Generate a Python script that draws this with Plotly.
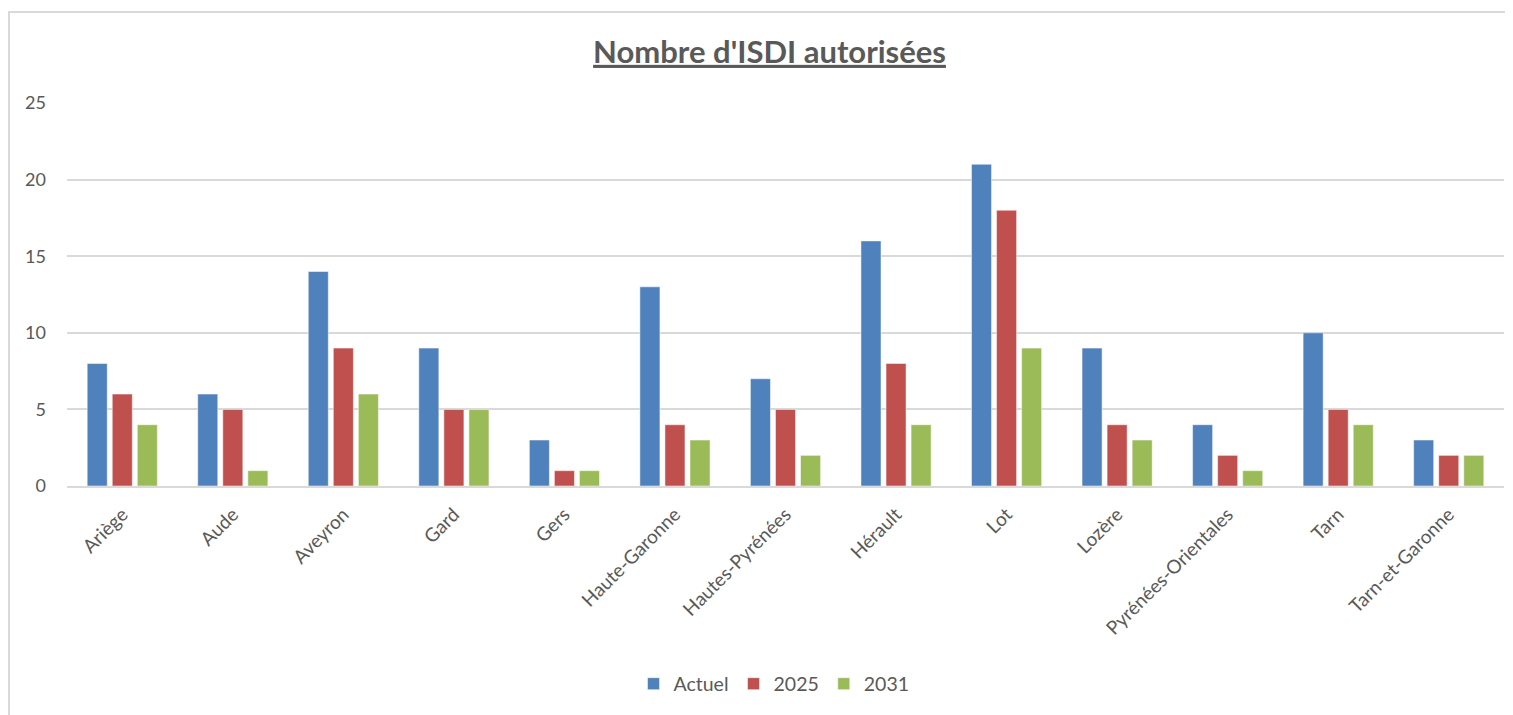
import plotly.graph_objects as go

departements = ["Ariège", "Aude", "Aveyron", "Gard", "Gers", "Haute-Garonne",
                "Hautes-Pyrénées", "Hérault", "Lot", "Lozère",
                "Pyrénées-Orientales", "Tarn", "Tarn-et-Garonne"]
actuel = [8, 6, 14, 9, 3, 13, 7, 16, 21, 9, 4, 10, 3]
v2025 = [6, 5, 9, 5, 1, 4, 5, 8, 18, 4, 2, 5, 2]
v2031 = [4, 1, 6, 5, 1, 3, 2, 4, 9, 3, 1, 4, 2]

series = [("Actuel", actuel, "#4F81BD"), ("2025", v2025, "#C0504D"), ("2031", v2031, "#9BBB59")]

FONT = "Lato"
GREY = "#595959"

fig = go.Figure()
for name, vals, col in series:
    fig.add_trace(go.Bar(x=departements, y=vals, name=name,
                         marker=dict(color=col, line=dict(color="white", width=0.5))))

# the page body adds an 8px offset; figure coords = page coords - 8
W, H = 1505, 707
L, R, T, B = 59, 9, 95, 229
pw, ph = W - L - R, H - T - B

def px_x(x):
    return (x - L) / pw

def px_y(y):
    return (H - B - y) / ph

fig.update_layout(
    width=W, height=H,
    margin=dict(l=L, r=R, t=T, b=B),
    paper_bgcolor="white", plot_bgcolor="white",
    barmode="group", bargap=0.32, bargroupgap=0.2,
    font=dict(family=FONT, color=GREY, size=18),
    title=dict(text="<u><b>Nombre d'ISDI autorisées</b></u>", x=761.5 / W, xanchor="center",
               y=1 - 44 / H, yanchor="middle", font=dict(size=31, color=GREY, family=FONT)),
    legend=dict(orientation="h", x=(766 - L) / pw, xanchor="center", y=px_y(676), yanchor="middle",
                font=dict(size=19.5, color=GREY), traceorder="normal"),
    xaxis=dict(tickangle=-45, showgrid=False, showline=True, linecolor="#d9d9d9", linewidth=2,
               tickfont=dict(size=19, color=GREY), ticks="", ticklabelstandoff=8),
    yaxis=dict(range=[0, 25], dtick=5, showgrid=True, gridcolor="#d9d9d9", gridwidth=1.5,
               zeroline=False, showline=False, tickfont=dict(size=18, color=GREY),
               ticklabelstandoff=20),
)

fig.add_shape(type="rect", xref="paper", yref="paper",
              x0=px_x(1), x1=px_x(1503), y0=px_y(760), y1=px_y(4),
              line=dict(color="#d9d9d9", width=2), fillcolor="rgba(0,0,0,0)", layer="below")

fig.write_html("out.html")
